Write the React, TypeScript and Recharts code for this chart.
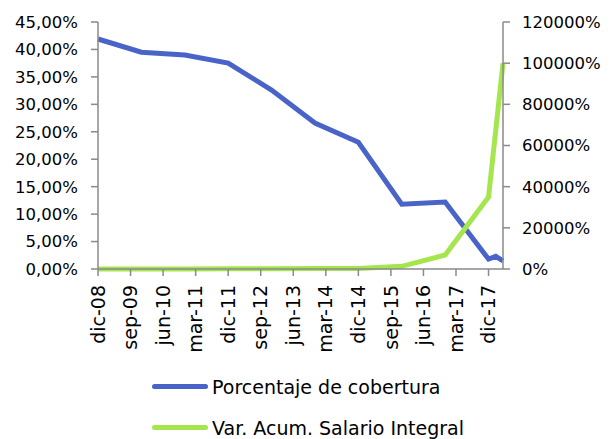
import React from 'react';
import { LineChart, Line, XAxis, YAxis, Legend } from 'recharts';

// x position is the month count since dic-08
const pointMonths = [0, 12, 24, 36, 48, 60, 72, 84, 96, 108, 110, 112];
const pointDates = ['dic-08', 'dic-09', 'dic-10', 'dic-11', 'dic-12', 'dic-13', 'dic-14', 'dic-15', 'dic-16', 'dic-17', 'feb-18', 'abr-18'];
const cobertura = [41.9, 39.5, 39.0, 37.5, 32.6, 26.6, 23.1, 11.8, 12.2, 1.8, 2.3, 1.5];
const salarioIntegral = [0, 20, 45, 80, 130, 200, 300, 1300, 6800, 35000, null, 100000];

const xTicks = [0, 9, 18, 27, 36, 45, 54, 63, 72, 81, 90, 99, 108];
const xTickLabels = ['dic-08', 'sep-09', 'jun-10', 'mar-11', 'dic-11', 'sep-12', 'jun-13', 'mar-14', 'dic-14', 'sep-15', 'jun-16', 'mar-17', 'dic-17'];
const leftTicks = [0, 5, 10, 15, 20, 25, 30, 35, 40, 45];
const rightTicks = [0, 20000, 40000, 60000, 80000, 100000, 120000];

const BLUE = '#4a63c9';
const GREEN = '#a5e64f';
const AXIS = '#8a8a8a';
const FONT = '"DejaVu Sans", sans-serif';

const data = pointMonths.map((m, i) => ({
  month: m,
  date: pointDates[i],
  cobertura: cobertura[i],
  salario: salarioIntegral[i],
}));

const XTick = ({ x, y, payload }: any) => {
  const idx = xTicks.indexOf(payload.value);
  return (
    <text
      x={x}
      y={y}
      transform={`rotate(-90 ${x} ${y})`}
      textAnchor="end"
      dy="0.35em"
      fontSize={19}
      fontFamily={FONT}
      fill="#000"
    >
      {xTickLabels[idx]}
    </text>
  );
};

const LegendBox = () => (
  <div style={{ fontFamily: FONT, fontSize: 19, color: '#000' }}>
    {[
      { name: 'Porcentaje de cobertura', color: BLUE },
      { name: 'Var. Acum. Salario Integral', color: GREEN },
    ].map((item, i) => (
      <div key={i} style={{ display: 'flex', alignItems: 'center', height: 41 }}>
        <span style={{ display: 'inline-block', width: 56, height: 5, borderRadius: 3, background: item.color, marginRight: 4 }} />
        <span>{item.name}</span>
      </div>
    ))}
  </div>
);

export default function App() {
  return (
    <div style={{ position: 'absolute', left: 0, top: 0, background: '#fff' }}>
      <LineChart width={614} height={439} data={data} margin={{ top: 22, right: 0, left: 0, bottom: 90 }}>
        <XAxis
          dataKey="month"
          type="number"
          domain={[0, 112]}
          ticks={xTicks}
          interval={0}
          tick={<XTick />}
          tickSize={7}
          tickMargin={9}
          stroke={AXIS}
          strokeWidth={1.5}
          height={80}
        />
        <YAxis
          yAxisId="left"
          domain={[0, 45]}
          ticks={leftTicks}
          tickFormatter={(v: number) => `${v.toFixed(2).replace('.', ',')}%`}
          tick={{ fontSize: 16.5, fontFamily: FONT, fill: '#000' }}
          tickSize={7}
          tickMargin={13}
          stroke={AXIS}
          strokeWidth={1.5}
          width={98}
          interval={0}
        />
        <YAxis
          yAxisId="right"
          orientation="right"
          domain={[0, 120000]}
          ticks={rightTicks}
          tickFormatter={(v: number) => `${v}%`}
          tick={{ fontSize: 16.5, fontFamily: FONT, fill: '#000' }}
          tickSize={7}
          tickMargin={12}
          stroke={AXIS}
          strokeWidth={1.5}
          width={111}
          interval={0}
        />
        <Legend
          layout="horizontal"
          verticalAlign="middle"
          align="center"
          content={<LegendBox />}
          wrapperStyle={{ position: 'absolute', left: 152, top: 366, width: 420 }}
        />
        <Line
          yAxisId="left"
          type="linear"
          dataKey="cobertura"
          name="Porcentaje de cobertura"
          stroke={BLUE}
          strokeWidth={5}
          dot={false}
          isAnimationActive={false}
        />
        <Line
          yAxisId="right"
          type="linear"
          dataKey="salario"
          name="Var. Acum. Salario Integral"
          stroke={GREEN}
          strokeWidth={5}
          dot={false}
          connectNulls
          isAnimationActive={false}
        />
      </LineChart>
    </div>
  );
}
